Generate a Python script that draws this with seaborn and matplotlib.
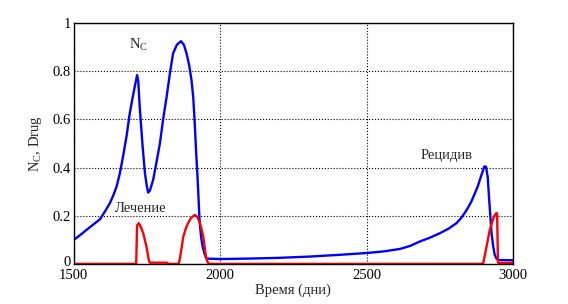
import numpy as np
import pandas as pd
import matplotlib
matplotlib.use("Agg")
import matplotlib.pyplot as plt
import matplotlib.transforms as mtransforms
import seaborn as sns

# ==============================
# DATA
# ==============================
nc_days = [1500, 1520, 1543, 1565, 1589, 1605, 1623, 1635, 1646, 1657, 1668, 1680,
           1691, 1700, 1708, 1713, 1716, 1720, 1725, 1735, 1743, 1749, 1754, 1760,
           1771, 1782, 1794, 1805, 1817, 1828, 1839, 1852, 1866, 1876, 1885, 1894,
           1902, 1908, 1913, 1918, 1923, 1930, 1935, 1940, 1947, 1953, 2000, 2100,
           2200, 2300, 2400, 2500, 2560, 2614, 2650, 2682, 2715, 2750, 2780, 2807,
           2825, 2842, 2857, 2870, 2880, 2887, 2895, 2902, 2908, 2914, 2919, 2927,
           2933, 2938, 2944, 2950, 3000]
nc_vals = [0.10, 0.118, 0.141, 0.162, 0.185, 0.215, 0.252, 0.285, 0.321, 0.375, 0.445, 0.53,
           0.625, 0.685, 0.736, 0.765, 0.784, 0.76, 0.653, 0.487, 0.376, 0.325, 0.296, 0.305,
           0.349, 0.42, 0.50, 0.60, 0.694, 0.79, 0.874, 0.91, 0.925, 0.91, 0.874, 0.825,
           0.763, 0.69, 0.585, 0.46, 0.349, 0.169, 0.11, 0.072, 0.04, 0.022, 0.02, 0.022,
           0.025, 0.03, 0.037, 0.045, 0.052, 0.062, 0.075, 0.093, 0.108, 0.127, 0.146, 0.169,
           0.193, 0.224, 0.256, 0.293, 0.322, 0.349, 0.378, 0.404, 0.404, 0.36, 0.266, 0.127,
           0.07, 0.037, 0.022, 0.016, 0.015]

drug_days = [1500, 1713, 1716, 1722, 1730, 1737, 1748, 1757, 1760, 1818, 1822, 1858,
             1862, 1874, 1882, 1890, 1900, 1913, 1922, 1930, 1936, 1942, 1947, 1951,
             1957, 1962, 2898, 2904, 2910, 2921, 2935, 2943, 2946, 2949, 2955, 3000]
drug_vals = [0, 0, 0.16, 0.169, 0.15, 0.127, 0.072, 0.01, 0.005, 0.005, 0, 0,
             0.02, 0.113, 0.145, 0.169, 0.19, 0.203, 0.195, 0.172, 0.145, 0.113, 0.07, 0.03,
             0.007, 0, 0, 0.035, 0.072, 0.141, 0.196, 0.21, 0.21, 0.005, 0.004, 0.004]

x_ticks = [1500, 2000, 2500, 3000]
y_ticks = [0, 0.2, 0.4, 0.6, 0.8, 1]
y_tick_labels = ["0", "0.2", "0.4", "0.6", "0.8", "1"]

nc_df = pd.DataFrame({"day": nc_days, "value": nc_vals})
drug_df = pd.DataFrame({"day": drug_days, "value": drug_vals})

# ==============================
# STYLE
# ==============================
sns.set_style("white")
plt.rcParams["font.family"] = ["Liberation Serif", "DejaVu Serif"]
plt.rcParams["mathtext.fontset"] = "custom"
plt.rcParams["mathtext.rm"] = "Liberation Serif"
plt.rcParams["mathtext.it"] = "Liberation Serif"
plt.rcParams["font.size"] = 10.5

fig = plt.figure(figsize=(5.68, 3.04), dpi=100)
ax = fig.add_axes([0.130, 0.132, 0.773, 0.792])

sns.lineplot(data=nc_df, x="day", y="value", color="#0000ff", lw=1.7, ax=ax)
sns.lineplot(data=drug_df, x="day", y="value", color="#ff0000", lw=1.7, ax=ax)

ax.set_xlim(1500, 3000)
ax.set_ylim(0, 1)
ax.set_xticks(x_ticks)
ax.set_yticks(y_ticks)
ax.set_yticklabels(y_tick_labels)
ax.tick_params(axis="y", length=0, pad=2, labelsize=10.5, colors="black")
ax.tick_params(axis="x", length=0, pad=4, labelsize=10.5, colors="black")
ax.grid(True, color="black", linestyle=":", linewidth=0.8)
for sp in ax.spines.values():
    sp.set_color("black")
    sp.set_linewidth(1.0)

# the "0" label sits a little above the axis line, clear of "1500"
zero_lbl = ax.get_yticklabels()[0]
zero_lbl.set_transform(zero_lbl.get_transform() +
                       mtransforms.ScaledTranslation(0, 3 / 100, fig.dpi_scale_trans))

ax.set_xlabel("Время (дни)", fontsize=10.5, labelpad=1)
ax.set_ylabel(r"N$_\mathrm{C}$, Drug", fontsize=10.5, labelpad=6)

ax.text(1719, 0.91, r"N$_\mathrm{C}$", ha="center", va="center", fontsize=10.5)
ax.text(1729, 0.228, "Лечение", ha="center", va="center", fontsize=10.5)
ax.text(2774, 0.45, "Рецидив", ha="center", va="center", fontsize=10.5)

fig.savefig("out.png", dpi=100)
